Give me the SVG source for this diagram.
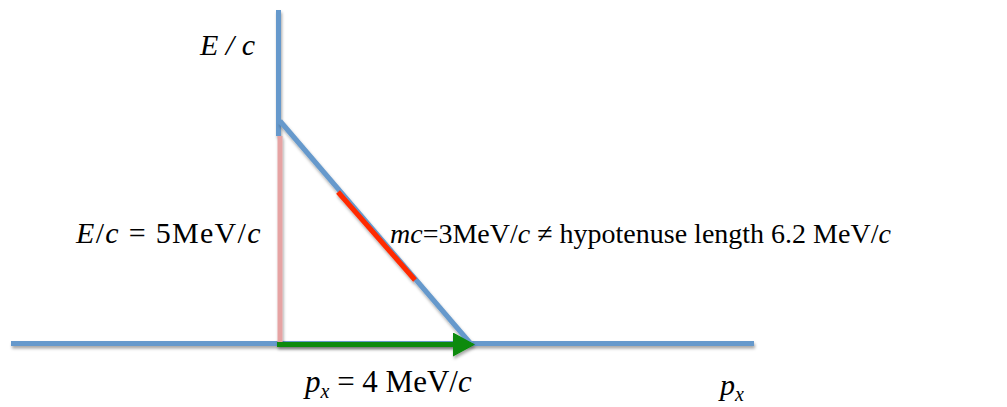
<svg xmlns="http://www.w3.org/2000/svg" width="1007" height="407" viewBox="0 0 1007 407">
<defs>
<filter id="sh" x="-10%" y="-10%" width="120%" height="120%">
<feDropShadow dx="1" dy="2.5" stdDeviation="1.5" flood-color="#000" flood-opacity="0.35"/>
</filter>
<marker id="arr" markerUnits="userSpaceOnUse" markerWidth="22" markerHeight="24" viewBox="0 0 22 24" refX="7" refY="12" orient="auto">
<path d="M0,0 L22,12 L0,24 z" fill="#078a07"/>
</marker>
<style>
.ax{stroke:#6699cc;stroke-width:5;fill:none}
.t{font-family:"Liberation Serif","Times New Roman",serif;fill:#000}
.i{font-style:italic}
</style>
</defs>
<rect width="1007" height="407" fill="#fff"/>
<g id="axes" filter="url(#sh)">
<line class="ax" x1="11" y1="343.5" x2="754" y2="343.5"/>
<line class="ax" x1="278.5" y1="10" x2="278.5" y2="136"/>
</g>
<g id="connectors" filter="url(#sh)">
<line x1="280" y1="136" x2="280" y2="343" stroke="#e6a3a3" stroke-width="5"/>
<line class="ax" x1="280" y1="121" x2="471" y2="344"/>
<line x1="338" y1="192" x2="415" y2="280" stroke="#ff2a00" stroke-width="5"/>
<line x1="277" y1="344.5" x2="460" y2="344.5" stroke="#078a07" stroke-width="5" marker-end="url(#arr)"/>
</g>
<g id="labels">
<text class="t i" x="200" y="55" font-size="30">E / c</text>
<text class="t" x="76" y="243" font-size="30" letter-spacing="1.3"><tspan class="i">E</tspan>/<tspan class="i">c</tspan> = 5MeV/<tspan class="i">c</tspan></text>
<text class="t" x="390" y="243" font-size="28"><tspan class="i">mc</tspan>=3MeV/<tspan class="i">c</tspan> ≠  hypotenuse length 6.2 MeV/<tspan class="i">c</tspan></text>
<text class="t" x="305" y="392" font-size="31"><tspan class="i">p</tspan><tspan class="i" font-size="20" dy="6">x</tspan><tspan dy="-6"> = 4 MeV/</tspan><tspan class="i">c</tspan></text>
<text class="t" x="720" y="395" font-size="30"><tspan class="i">p</tspan><tspan class="i" font-size="20" dy="6">x</tspan></text>
</g>
</svg>
